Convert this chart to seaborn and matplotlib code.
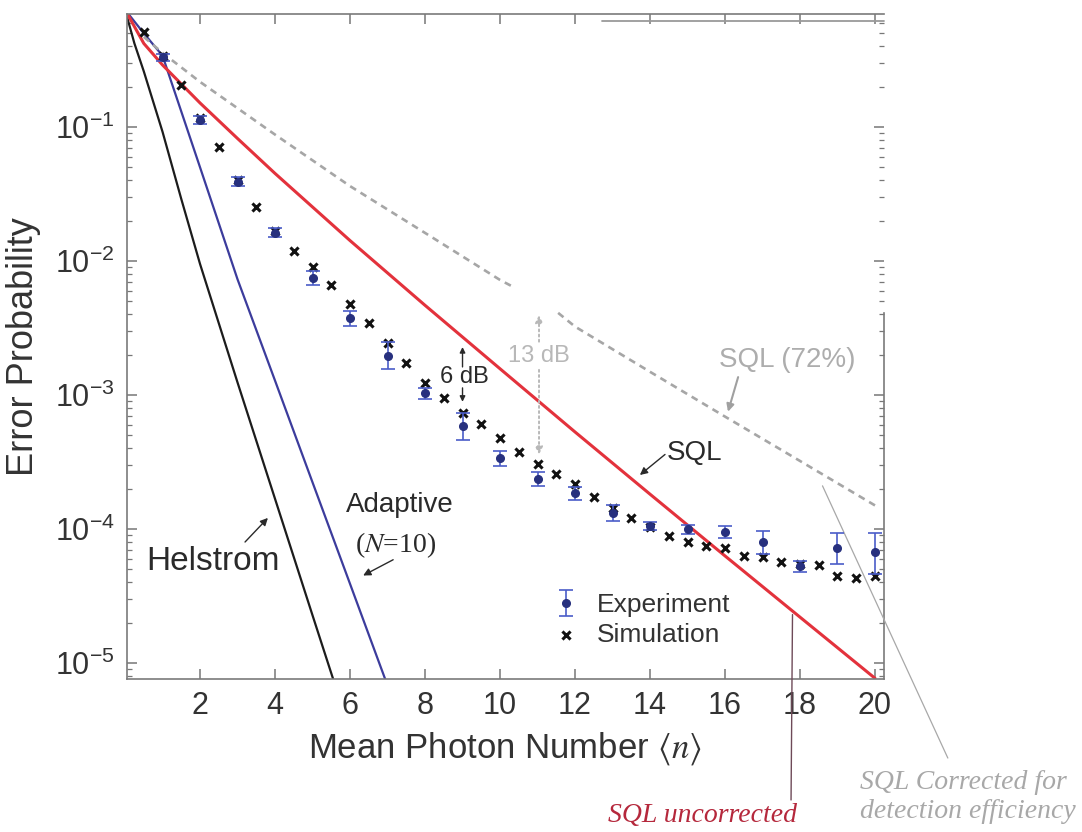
import matplotlib
matplotlib.use("Agg")
import matplotlib.pyplot as plt
import matplotlib.ticker as mticker
import seaborn as sns

# curves (mean photon number -> error probability)
helstrom_n = [0, 0.25, 0.5, 1, 1.5, 2, 3, 4, 5, 6]
helstrom_p = [0.75, 0.42, 0.26, 0.092, 0.029, 9.5e-3, 1.24e-3, 1.68e-4, 2.27e-5, 3.1e-6]

adaptive_n = [0, 0.5, 1, 2, 3, 4, 5, 6, 7]
adaptive_p = [0.75, 0.50, 0.34, 0.050, 7.3e-3, 1.28e-3, 2.23e-4, 3.9e-5, 6.8e-6]

sql_n = [0, 0.5, 1, 2, 3, 4, 6, 8, 10, 12, 14, 16, 18, 20]
sql_p = [0.75, 0.42, 0.29, 0.151, 0.082, 0.045, 0.0142, 4.67e-3, 1.57e-3,
         5.3e-4, 1.82e-4, 6.3e-5, 2.2e-5, 7.7e-6]

# SQL at 72% detection efficiency, broken around the 13 dB arrow
sql72_n = [0.5, 1, 2, 4, 6, 8, 10, 10.4, 11.55, 12, 14, 16, 18, 20]
sql72_p = [0.47, 0.357, 0.217, 0.0877, 0.0362, 0.0162, 7.22e-3, 6.3e-3,
           4.1e-3, 3.24e-3, 1.49e-3, 6.9e-4, 3.22e-4, 1.5e-4]
sql72_gap = 8

exp_n = list(range(1, 21))
exp_p = [0.33, 0.113, 0.039, 0.0162, 7.5e-3, 3.76e-3, 1.95e-3, 1.03e-3, 5.9e-4, 3.4e-4,
         2.36e-4, 1.86e-4, 1.32e-4, 1.05e-4, 1.0e-4, 9.5e-5, 8.0e-5, 5.3e-5, 7.2e-5, 6.7e-5]
exp_lo = [0.31, 0.105, 0.036, 0.0150, 6.6e-3, 3.3e-3, 1.55e-3, 0.93e-3, 4.6e-4, 2.95e-4,
          2.1e-4, 1.65e-4, 1.15e-4, 0.98e-4, 0.92e-4, 8.5e-5, 6.5e-5, 4.8e-5, 5.5e-5, 4.6e-5]
exp_hi = [0.35, 0.121, 0.042, 0.0175, 8.4e-3, 4.2e-3, 2.5e-3, 1.12e-3, 7.4e-4, 3.85e-4,
          2.65e-4, 2.05e-4, 1.5e-4, 1.12e-4, 1.08e-4, 1.05e-4, 9.6e-5, 5.8e-5, 9.4e-5, 9.4e-5]

sim_n = [0.5, 1, 1.5, 2, 2.5, 3, 3.5, 4, 4.5, 5, 5.5, 6, 6.5, 7, 7.5, 8, 8.5, 9, 9.5, 10,
         10.5, 11, 11.5, 12, 12.5, 13, 13.5, 14, 14.5, 15, 15.5, 16, 16.5, 17, 17.5, 18,
         18.5, 19, 19.5, 20]
sim_p = [0.51, 0.34, 0.206, 0.116, 0.071, 0.040, 0.0253, 0.0166, 0.0119, 9.0e-3, 6.6e-3,
         4.8e-3, 3.44e-3, 2.44e-3, 1.73e-3, 1.23e-3, 9.5e-4, 7.3e-4, 6.1e-4, 4.78e-4,
         3.76e-4, 3.06e-4, 2.57e-4, 2.17e-4, 1.72e-4, 1.44e-4, 1.21e-4, 1.03e-4, 8.9e-5,
         8.0e-5, 7.5e-5, 7.2e-5, 6.3e-5, 6.2e-5, 5.7e-5, 5.5e-5, 5.4e-5, 4.46e-5, 4.3e-5,
         4.46e-5]

x_ticks = [2, 4, 6, 8, 10, 12, 14, 16, 18, 20]
y_ticks = [1e-5, 1e-4, 1e-3, 1e-2, 1e-1]
y_tick_labels = [r"$10^{-5}$", r"$10^{-4}$", r"$10^{-3}$", r"$10^{-2}$", r"$10^{-1}$"]

sns.set_theme(style="ticks")
plt.rcParams["font.family"] = ["Liberation Sans", "DejaVu Sans"]
plt.rcParams["mathtext.fontset"] = "custom"
plt.rcParams["mathtext.rm"] = "Liberation Sans"
plt.rcParams["mathtext.it"] = "Liberation Sans:italic"

fig = plt.figure(figsize=(10.82, 8.32), dpi=100)
ax = fig.add_axes([0.1174, 0.1839, 0.6996, 0.7993])
ax.set_yscale("log")

sns.lineplot(x=helstrom_n, y=helstrom_p, color="#1c1c1c", lw=1.6, estimator=None, sort=False, ax=ax)
sns.lineplot(x=adaptive_n, y=adaptive_p, color="#3c3c9c", lw=1.6, estimator=None, sort=False, ax=ax)
sns.lineplot(x=sql_n, y=sql_p, color="#e3323c", lw=2.2, estimator=None, sort=False, ax=ax)
for seg in (slice(0, sql72_gap), slice(sql72_gap, None)):
    sns.lineplot(x=sql72_n[seg], y=sql72_p[seg], color="#a6a6a6", lw=1.9,
                 dashes=False, estimator=None, sort=False, ax=ax).lines[-1].set_dashes((2.6, 2.0))

sns.scatterplot(x=sim_n, y=sim_p, marker="x", color="#111111", s=34, linewidth=2.2,
                zorder=4, ax=ax, label="Simulation")
yerr = [[p - lo for p, lo in zip(exp_p, exp_lo)], [hi - p for p, hi in zip(exp_p, exp_hi)]]
eb = ax.errorbar(exp_n, exp_p, yerr=yerr, fmt="o", ms=5.5, color="#27307e",
                 ecolor="#4a5cc8", elinewidth=1.2, capsize=5, capthick=1.2, zorder=5,
                 label="Experiment")

ax.set_xlim(0.053, 20.24)
ax.set_ylim(10 ** -5.119, 10 ** -0.157)
ax.set_xticks(x_ticks)
ax.set_yticks(y_ticks)
ax.set_yticklabels(y_tick_labels)
ax.yaxis.set_minor_locator(mticker.LogLocator(base=10, subs=range(2, 10), numticks=20))
ax.yaxis.set_minor_formatter(mticker.NullFormatter())
ax.xaxis.set_minor_locator(mticker.NullLocator())
ax.tick_params(which="both", direction="in", top=True, right=True, color="#777777",
               labelcolor="#333333", labelsize=22, pad=9)
ax.tick_params(which="major", length=7, width=1.1)
ax.tick_params(which="minor", length=3.5, width=0.9)
for s in ax.spines.values():
    s.set_color("#7a7a7a")
    s.set_linewidth(1.2)
ax.spines["right"].set_bounds(10 ** -5.119, 4.1e-3)
ax.axhline(0.62, xmin=0.627, xmax=1.0, color="#9a9a9a", lw=1.3, clip_on=False)

ax.set_xlabel(r"Mean Photon Number $\langle n\rangle$", fontsize=25, color="#333333",
              labelpad=6, math_fontfamily="stix")
ax.set_ylabel("Error Probability", fontsize=26, color="#333333", labelpad=10)

dark = "#2a2a2a"
gray = "#adadad"
arrow = dict(arrowstyle="-|>", color=dark, lw=1.0, mutation_scale=11, shrinkA=0, shrinkB=0)

ax.text(2.35, 5.7e-5, "Helstrom", fontsize=24, color=dark, ha="center", va="center")
ax.annotate("", xy=(3.81, 1.21e-4), xytext=(3.2, 8.0e-5), arrowprops=arrow)

ax.text(7.33, 1.5e-4, "Adaptive", fontsize=20, color=dark, ha="center", va="center")
ax.text(7.22, 7.6e-5, r"($N$=10)", fontsize=20, color=dark, ha="center", va="center",
        family="Liberation Serif", math_fontfamily="stix")
ax.annotate("", xy=(6.35, 4.5e-5), xytext=(7.15, 5.9e-5), arrowprops=arrow)

ax.text(9.04, 1.36e-3, "6 dB", fontsize=17, color=dark, ha="center", va="center")
ax.annotate("", xy=(9.0, 2.28e-3), xytext=(9.0, 1.62e-3), arrowprops=dict(arrow, mutation_scale=8))
ax.annotate("", xy=(9.0, 8.9e-4), xytext=(9.0, 1.13e-3), arrowprops=dict(arrow, mutation_scale=8))

dotted = dict(arrowstyle="-|>", color="#b8b8b8", lw=1.4, ls=":", mutation_scale=11,
              shrinkA=0, shrinkB=0)
ax.text(11.04, 1.95e-3, "13 dB", fontsize=17, color="#b8b8b8", ha="center", va="center")
ax.annotate("", xy=(11.04, 3.95e-3), xytext=(11.04, 2.5e-3), arrowprops=dotted)
ax.annotate("", xy=(11.04, 3.6e-4), xytext=(11.04, 1.54e-3), arrowprops=dotted)

ax.text(17.65, 1.82e-3, "SQL (72%)", fontsize=20, color=gray, ha="center", va="center")
ax.annotate("", xy=(16.08, 7.5e-4), xytext=(16.35, 1.36e-3),
            arrowprops=dict(arrow, color="#a0a0a0", lw=1.5))

ax.text(15.2, 3.7e-4, "SQL", fontsize=20, color=dark, ha="center", va="center")
ax.annotate("", xy=(13.73, 2.53e-4), xytext=(14.4, 3.6e-4), arrowprops=arrow)

# notes below the axes
ax.annotate("", xy=(17.8, 2.3e-5), xytext=(0.7311, 0.0385), textcoords="figure fraction",
            arrowprops=dict(arrowstyle="-", color="#6e4a58", lw=1.0, shrinkA=0, shrinkB=0),
            annotation_clip=False)
fig.text(0.6497, 0.020, "SQL uncorrected", fontsize=20, color="#b5283c", style="italic",
         family="Liberation Serif", ha="center", va="center")
ax.annotate("", xy=(18.6, 2.1e-4), xytext=(0.876, 0.0889), textcoords="figure fraction",
            arrowprops=dict(arrowstyle="-", color="#a8a8a8", lw=0.9, shrinkA=0, shrinkB=0),
            annotation_clip=False)
fig.text(0.7948, 0.0745, "SQL Corrected for\ndetection efficiency", fontsize=20,
         color="#a8a8a8", style="italic", family="Liberation Serif", ha="left", va="top",
         linespacing=1.2)

handles, labels = ax.get_legend_handles_labels()
order = [labels.index("Experiment"), labels.index("Simulation")]
ax.legend([handles[i] for i in order], [labels[i] for i in order], loc="center left",
          bbox_to_anchor=(0.555, 0.0887), frameon=False, fontsize=19, handlelength=1.4,
          handletextpad=0.5, labelspacing=0.2, borderpad=0, borderaxespad=0,
          labelcolor="#333333")

fig.savefig("out.png", dpi=100)
